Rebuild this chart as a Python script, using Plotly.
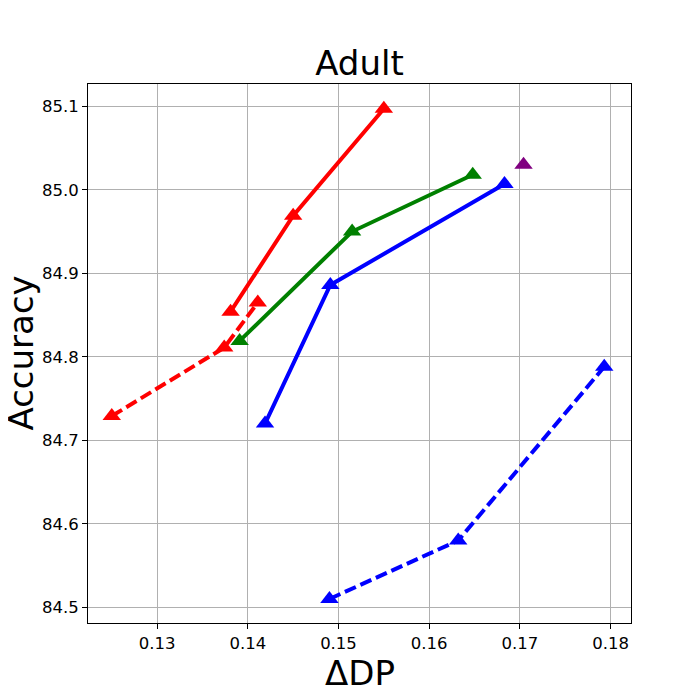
import plotly.graph_objects as go

# values
red_dash_x = [0.1250, 0.1374, 0.1411]
red_dash_y = [84.729, 84.811, 84.865]

blue_dash_x = [0.1490, 0.1632, 0.1793]
blue_dash_y = [84.510, 84.580, 84.788]

red_x = [0.1381, 0.1450, 0.1550]
red_y = [84.854, 84.969, 85.097]

green_x = [0.1391, 0.1515, 0.1648]
green_y = [84.819, 84.950, 85.018]

blue_x = [0.1419, 0.1491, 0.1683]
blue_y = [84.720, 84.886, 85.007]

purple_x = [0.1704]
purple_y = [85.030]

x_ticks = [0.13, 0.14, 0.15, 0.16, 0.17, 0.18]
y_ticks = [84.5, 84.6, 84.7, 84.8, 84.9, 85.0, 85.1]

series = [
    (red_dash_x, red_dash_y, 'red', '12px,5px'),
    (blue_dash_x, blue_dash_y, 'blue', '12px,5px'),
    (red_x, red_y, 'red', 'solid'),
    (green_x, green_y, 'green', 'solid'),
    (blue_x, blue_y, 'blue', 'solid'),
    (purple_x, purple_y, 'purple', 'solid'),
]

fig = go.Figure()
for xs, ys, col, dash in series:
    fig.add_trace(go.Scatter(x=xs, y=ys, mode='lines+markers',
                             line=dict(color=col, width=4, dash=dash),
                             marker=dict(symbol='triangle-up', size=16, color=col),
                             showlegend=False))

font = "DejaVu Sans, sans-serif"
# page has an 8px body margin, so the figure is 692 wide/high
fig.update_layout(
    width=692, height=692,
    margin=dict(l=80, r=69, t=76, b=77, autoexpand=False),
    plot_bgcolor='white', paper_bgcolor='white',
    font=dict(family=font, color='black'),
    title=dict(text='Adult', xref='paper', x=0.5, xanchor='center', y=0.921, yanchor='middle',
               font=dict(size=34, family=font, color='black')),
)
fig.update_xaxes(
    range=[0.12238, 0.18225], tickvals=x_ticks, ticktext=[f'{v:.2f}' for v in x_ticks],
    showgrid=True, gridcolor='#b0b0b0', gridwidth=1,
    showline=True, linecolor='black', linewidth=1, mirror=True,
    ticks='outside', ticklen=5, tickcolor='black', zeroline=False,
    tickfont=dict(size=16.5, family=font), automargin=False,
)
fig.update_yaxes(
    range=[84.4812, 85.1267], tickvals=y_ticks, ticktext=[f'{v:.1f}' for v in y_ticks],
    showgrid=True, gridcolor='#b0b0b0', gridwidth=1,
    showline=True, linecolor='black', linewidth=1, mirror=True,
    ticks='outside', ticklen=5, tickcolor='black', zeroline=False,
    tickfont=dict(size=16.5, family=font), automargin=False,
)

# axis titles
fig.add_annotation(text='ΔDP', xref='paper', yref='paper', x=0.5, y=0,
                   xanchor='center', yanchor='middle', yshift=-50, showarrow=False,
                   font=dict(size=34, family=font, color='black'))
fig.add_annotation(text='Accuracy', xref='paper', yref='paper', x=0, y=0.5,
                   xanchor='center', yanchor='middle', xshift=-68, textangle=-90,
                   showarrow=False, font=dict(size=34, family=font, color='black'))

fig.write_html("out.html")
